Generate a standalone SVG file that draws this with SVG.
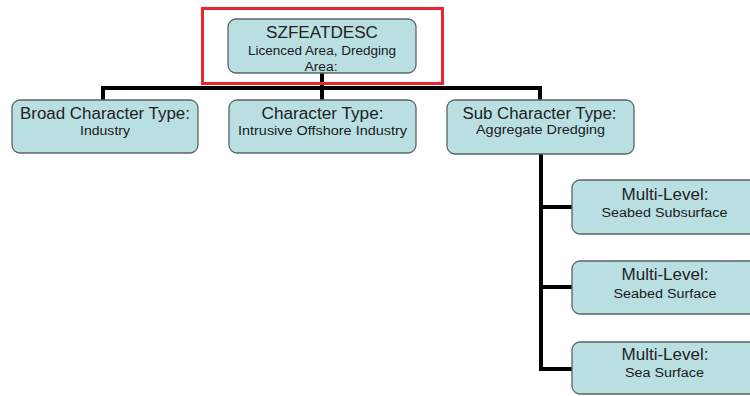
<svg xmlns="http://www.w3.org/2000/svg" width="750" height="396" viewBox="0 0 750 396">
  <style>
    .box { fill: #b9dfe3; stroke: #5a6466; stroke-width: 1.3; }
    .wire { stroke: #000; stroke-width: 4; fill: none; stroke-linecap: square; }
    .t1 { font-family: "Liberation Sans", Arial, sans-serif; font-size: 16px; fill: #222; text-anchor: middle; }
    .t2 { font-family: "Liberation Sans", Arial, sans-serif; font-size: 12.5px; fill: #1a1a1a; text-anchor: middle; }
  </style>
  <rect width="750" height="396" fill="#fff"/>

  <g id="connectors">
    <path class="wire" d="M322 73 V88 M103 100 V88 H540 V100 M322 88 V100"/>
    <path class="wire" d="M541 154 V369 M541 207 H572 M541 287 H572 M541 369 H572"/>
  </g>

  <g id="highlight">
    <rect x="202.5" y="8.5" width="240" height="75" fill="none" stroke="#e8262c" stroke-width="3"/>
  </g>

  <g id="szfeatdesc">
    <rect class="box" x="228" y="19" width="188" height="54" rx="8"/>
    <text class="t1" x="322" y="38" textLength="112" lengthAdjust="spacingAndGlyphs">SZFEATDESC</text>
    <text class="t2" x="322" y="55" textLength="148" lengthAdjust="spacingAndGlyphs">Licenced Area, Dredging</text>
    <text class="t2" x="321" y="71" textLength="33" lengthAdjust="spacingAndGlyphs">Area:</text>
  </g>

  <g id="broad-character-type">
    <rect class="box" x="12" y="100" width="186" height="53" rx="8"/>
    <text class="t1" x="105" y="119" textLength="170" lengthAdjust="spacingAndGlyphs">Broad Character Type:</text>
    <text class="t2" x="105" y="135" textLength="50" lengthAdjust="spacingAndGlyphs">Industry</text>
  </g>

  <g id="character-type">
    <rect class="box" x="229" y="100" width="187" height="53" rx="8"/>
    <text class="t1" x="322.5" y="119" textLength="122" lengthAdjust="spacingAndGlyphs">Character Type:</text>
    <text class="t2" x="322.5" y="135" textLength="169" lengthAdjust="spacingAndGlyphs">Intrusive Offshore Industry</text>
  </g>

  <g id="sub-character-type">
    <rect class="box" x="447" y="100" width="187" height="54" rx="8"/>
    <text class="t1" x="539.5" y="119" textLength="154" lengthAdjust="spacingAndGlyphs">Sub Character Type:</text>
    <text class="t2" x="540.5" y="134" textLength="129" lengthAdjust="spacingAndGlyphs">Aggregate Dredging</text>
  </g>

  <g id="seabed-subsurface">
    <rect class="box" x="572" y="180" width="187" height="54" rx="8"/>
    <text class="t1" x="665" y="200" textLength="87" lengthAdjust="spacingAndGlyphs">Multi-Level:</text>
    <text class="t2" x="664.5" y="217" textLength="126" lengthAdjust="spacingAndGlyphs">Seabed Subsurface</text>
  </g>

  <g id="seabed-surface">
    <rect class="box" x="572" y="261" width="187" height="53" rx="8"/>
    <text class="t1" x="665" y="280" textLength="87" lengthAdjust="spacingAndGlyphs">Multi-Level:</text>
    <text class="t2" x="665" y="298" textLength="103" lengthAdjust="spacingAndGlyphs">Seabed Surface</text>
  </g>

  <g id="sea-surface">
    <rect class="box" x="572" y="342" width="187" height="52" rx="8"/>
    <text class="t1" x="665" y="360" textLength="87" lengthAdjust="spacingAndGlyphs">Multi-Level:</text>
    <text class="t2" x="664.5" y="377" textLength="79" lengthAdjust="spacingAndGlyphs">Sea Surface</text>
  </g>
</svg>
